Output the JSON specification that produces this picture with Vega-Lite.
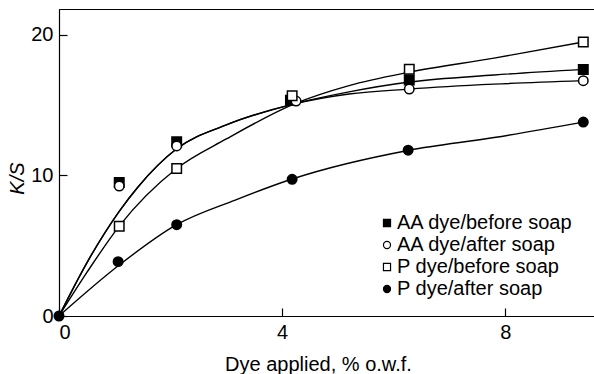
{
  "$schema": "https://vega.github.io/schema/vega-lite/v6.json",
  "width": 536,
  "height": 307,
  "autosize": {"type": "none"},
  "padding": {"left": 59, "top": 9, "right": 0, "bottom": 58},
  "background": "white",
  "config": {
    "font": "Liberation Sans",
    "view": {"stroke": "black", "strokeWidth": 1},
    "axis": {
      "grid": false,
      "domainColor": "black",
      "domainWidth": 1.2,
      "tickColor": "black",
      "tickWidth": 1.2,
      "tickSize": -8,
      "labelFontSize": 20,
      "labelColor": "black",
      "titleFontSize": 20,
      "titleColor": "black",
      "titleFontWeight": "normal"
    },
    "legend": {
      "labelLimit": 0
    }
  },
  "datasets": {
    "points": [
      {"series": "AA dye/before soap", "x": 1.08, "y": 9.5},
      {"series": "AA dye/before soap", "x": 2.11, "y": 12.4},
      {"series": "AA dye/before soap", "x": 4.15, "y": 15.35},
      {"series": "AA dye/before soap", "x": 6.28, "y": 16.8},
      {"series": "AA dye/before soap", "x": 9.4, "y": 17.55},
      {"series": "AA dye/after soap", "x": 1.08, "y": 9.25},
      {"series": "AA dye/after soap", "x": 2.11, "y": 12.1},
      {"series": "AA dye/after soap", "x": 4.25, "y": 15.3},
      {"series": "AA dye/after soap", "x": 6.28, "y": 16.15},
      {"series": "AA dye/after soap", "x": 9.4, "y": 16.75},
      {"series": "P dye/before soap", "x": 1.08, "y": 6.38},
      {"series": "P dye/before soap", "x": 2.11, "y": 10.5},
      {"series": "P dye/before soap", "x": 4.18, "y": 15.68},
      {"series": "P dye/before soap", "x": 6.28, "y": 17.56},
      {"series": "P dye/before soap", "x": 9.4, "y": 19.5},
      {"series": "P dye/after soap", "x": 0, "y": 0},
      {"series": "P dye/after soap", "x": 1.06, "y": 3.87},
      {"series": "P dye/after soap", "x": 2.11, "y": 6.5},
      {"series": "P dye/after soap", "x": 4.18, "y": 9.73},
      {"series": "P dye/after soap", "x": 6.26, "y": 11.8},
      {"series": "P dye/after soap", "x": 9.4, "y": 13.8}
    ],
    "curves": [
      {"curve": "AA before", "x": 0, "y": 0},
      {"curve": "AA before", "x": 0.53, "y": 4.0},
      {"curve": "AA before", "x": 1.08, "y": 7.45},
      {"curve": "AA before", "x": 1.42, "y": 9.2},
      {"curve": "AA before", "x": 2.11, "y": 11.9},
      {"curve": "AA before", "x": 3, "y": 13.6},
      {"curve": "AA before", "x": 4.22, "y": 15.1},
      {"curve": "AA before", "x": 5.2, "y": 15.95},
      {"curve": "AA before", "x": 6.28, "y": 16.65},
      {"curve": "AA before", "x": 7.8, "y": 17.15},
      {"curve": "AA before", "x": 9.4, "y": 17.55},
      {"curve": "AA after", "x": 0, "y": 0},
      {"curve": "AA after", "x": 0.53, "y": 4.0},
      {"curve": "AA after", "x": 1.08, "y": 7.45},
      {"curve": "AA after", "x": 1.42, "y": 9.2},
      {"curve": "AA after", "x": 2.11, "y": 11.9},
      {"curve": "AA after", "x": 3, "y": 13.6},
      {"curve": "AA after", "x": 4.22, "y": 15.1},
      {"curve": "AA after", "x": 5.2, "y": 15.8},
      {"curve": "AA after", "x": 6.28, "y": 16.15},
      {"curve": "AA after", "x": 7.8, "y": 16.5},
      {"curve": "AA after", "x": 9.4, "y": 16.75},
      {"curve": "P before", "x": 0, "y": 0},
      {"curve": "P before", "x": 0.5, "y": 3.1},
      {"curve": "P before", "x": 1.08, "y": 6.4},
      {"curve": "P before", "x": 2.11, "y": 10.5},
      {"curve": "P before", "x": 3, "y": 12.6},
      {"curve": "P before", "x": 4.22, "y": 15.1},
      {"curve": "P before", "x": 5.2, "y": 16.4},
      {"curve": "P before", "x": 6.28, "y": 17.35},
      {"curve": "P before", "x": 7.8, "y": 18.35},
      {"curve": "P before", "x": 9.4, "y": 19.5},
      {"curve": "P after", "x": 0, "y": 0},
      {"curve": "P after", "x": 1.08, "y": 3.63},
      {"curve": "P after", "x": 2.11, "y": 6.5},
      {"curve": "P after", "x": 3.16, "y": 8.25},
      {"curve": "P after", "x": 4.18, "y": 9.75},
      {"curve": "P after", "x": 6.28, "y": 11.8},
      {"curve": "P after", "x": 7.8, "y": 12.7},
      {"curve": "P after", "x": 9.4, "y": 13.8}
    ]
  },
  "encoding": {
    "x": {
      "field": "x",
      "type": "quantitative",
      "scale": {"domain": [0, 9.61], "nice": false, "zero": false},
      "axis": {
        "values": [0, 4, 8],
        "title": "Dye applied, % o.w.f.",
        "labelPadding": 14,
        "titleX": 259,
        "titleY": 54,
        "titleBaseline": "alphabetic"
      }
    },
    "y": {
      "field": "y",
      "type": "quantitative",
      "scale": {"domain": [0, 21.85], "nice": false, "zero": false},
      "axis": {
        "values": [0, 10, 20],
        "title": "K/S",
        "titleFontStyle": "italic",
        "labelPadding": 14,
        "titleX": -36,
        "titleY": 169,
        "titleAngle": 270,
        "titleBaseline": "alphabetic"
      }
    }
  },
  "layer": [
    {
      "data": {"name": "curves"},
      "mark": {"type": "line", "interpolate": "monotone", "color": "black", "strokeWidth": 1.4},
      "encoding": {"detail": {"field": "curve"}}
    },
    {
      "data": {"name": "points"},
      "mark": {"type": "point", "filled": true, "strokeWidth": 1.5, "opacity": 1, "size": 90},
      "encoding": {
        "shape": {
          "field": "series",
          "type": "nominal",
          "scale": {
            "domain": ["AA dye/before soap", "AA dye/after soap", "P dye/before soap", "P dye/after soap"],
            "range": ["square", "circle", "square", "circle"]
          },
          "legend": {
            "title": null,
            "orient": "none",
            "legendX": 318,
            "legendY": 204,
            "labelFontSize": 20,
            "labelColor": "black",
            "labelOffset": 0,
            "labelLimit": 0,
            "symbolSize": 50,
            "symbolStrokeWidth": 1.2,
            "rowPadding": 2,
            "padding": 0
          }
        },
        "fill": {
          "field": "series",
          "type": "nominal",
          "scale": {
            "domain": ["AA dye/before soap", "AA dye/after soap", "P dye/before soap", "P dye/after soap"],
            "range": ["black", "white", "white", "black"]
          },
          "legend": {
            "title": null,
            "orient": "none",
            "legendX": 318,
            "legendY": 204,
            "labelFontSize": 20,
            "labelColor": "black",
            "labelOffset": 0,
            "labelLimit": 0,
            "symbolSize": 50,
            "symbolStrokeWidth": 1.2,
            "rowPadding": 2,
            "padding": 0
          }
        },
        "stroke": {
          "field": "series",
          "type": "nominal",
          "scale": {
            "domain": ["AA dye/before soap", "AA dye/after soap", "P dye/before soap", "P dye/after soap"],
            "range": ["black", "black", "black", "black"]
          },
          "legend": {
            "title": null,
            "orient": "none",
            "legendX": 318,
            "legendY": 204,
            "labelFontSize": 20,
            "labelColor": "black",
            "labelOffset": 0,
            "labelLimit": 0,
            "symbolSize": 50,
            "symbolStrokeWidth": 1.2,
            "rowPadding": 2,
            "padding": 0
          }
        }
      }
    }
  ]
}
